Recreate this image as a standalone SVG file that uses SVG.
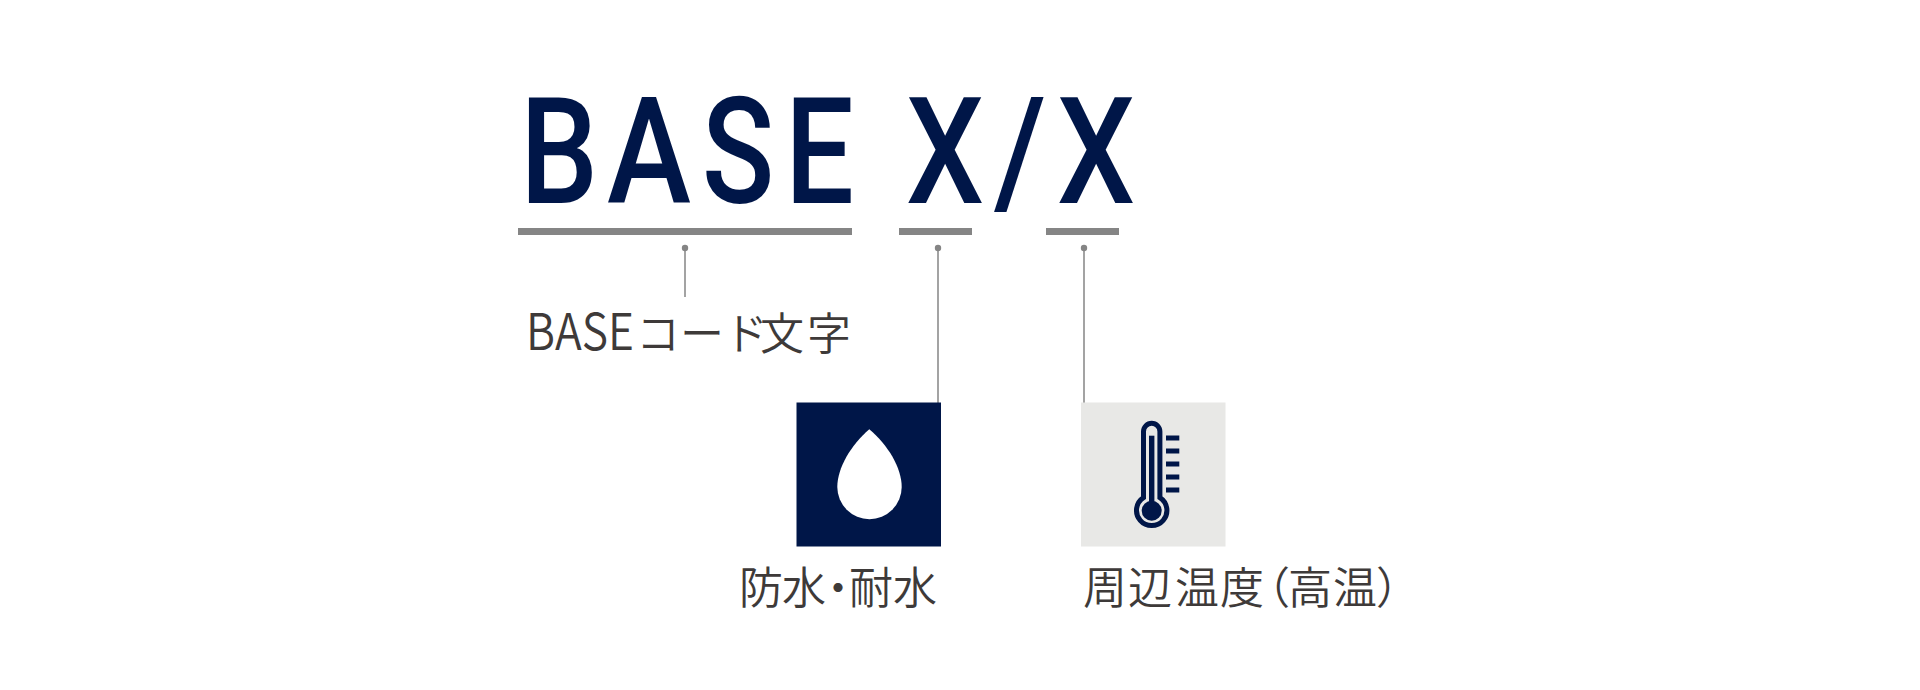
<svg xmlns="http://www.w3.org/2000/svg" width="1920" height="690" viewBox="0 0 1920 690">
<style>
.t{font-family:Roboto,"Liberation Sans",sans-serif;font-weight:500;font-size:149px;fill:#001648}
.l{font-family:"Noto Sans CJK JP","Noto Sans",sans-serif;font-weight:350;font-size:44px;fill:#3e3a39}
.b{fill:#858585}
.c{stroke:#858585;stroke-width:1.5;fill:none}
.d{fill:#858585}
</style>
<rect width="1920" height="690" fill="#fff"/>
<g id="title">
<text class="t" transform="translate(520,203) scale(.83,1)">B</text>
<text class="t" transform="translate(607,203) scale(.85,1)">A</text>
<text class="t" transform="translate(702,203) scale(.8,1)">S</text>
<text class="t" transform="translate(785,203) scale(.82,1)">E</text>
<text class="t" transform="translate(906,203) scale(.83,1)">X</text>
<text class="t" transform="translate(994,203) scale(.9,1)">/</text>
<text class="t" transform="translate(1057,203) scale(.83,1)">X</text>
</g>
<g id="bars">
<rect class="b" x="518" y="228" width="334" height="7"/>
<rect class="b" x="899" y="228" width="73" height="7"/>
<rect class="b" x="1046" y="228" width="73" height="7"/>
</g>
<g id="connectors">
<path class="c" d="M685 248V297M938 248V403M1084 248V403"/>
<circle class="d" cx="685" cy="248" r="3.2"/>
<circle class="d" cx="938" cy="248" r="3.2"/>
<circle class="d" cx="1084" cy="248" r="3.2"/>
</g>
<g id="label-base">
<text class="l" x="526" y="350" style="font-size:51px" textLength="108" lengthAdjust="spacingAndGlyphs">BASE</text>
<text class="l" x="636 680 724 760 807" y="350">コード文字</text>
</g>
<g id="node-water">
<rect x="796.5" y="402.5" width="144.5" height="144" fill="#001648"/>
<path fill="#fff" d="M869.3 429.3C851 445 837.3 468 837.3 487A32.2 32.2 0 0 0 901.7 487C901.7 468 888 445 869.3 429.3Z"/>
<text class="l" x="739 782 816 849 893" y="604">防水・耐水</text>
</g>
<g id="node-temp">
<rect x="1081" y="402.5" width="144.5" height="144" fill="#e8e8e6"/>
<path fill="none" stroke="#001648" stroke-width="5" d="M1143.5 497.6V431.5A8.2 8.2 0 0 1 1159.9 431.5V497.6A15.2 15.2 0 1 1 1143.5 497.6Z"/>
<rect x="1149" y="435.7" width="5.4" height="70" fill="#001648"/>
<circle cx="1151.7" cy="510.7" r="10" fill="#001648"/>
<g fill="#001648">
<rect x="1166" y="435.5" width="13.3" height="5"/>
<rect x="1166" y="448.5" width="13.3" height="5"/>
<rect x="1166" y="461.5" width="13.3" height="5"/>
<rect x="1166" y="474.5" width="13.3" height="5"/>
<rect x="1166" y="487.5" width="13.3" height="5"/>
</g>
<text class="l" x="1083 1128 1175 1220 1246 1288 1333 1376" y="604">周辺温度（高温）</text>
</g>
</svg>
